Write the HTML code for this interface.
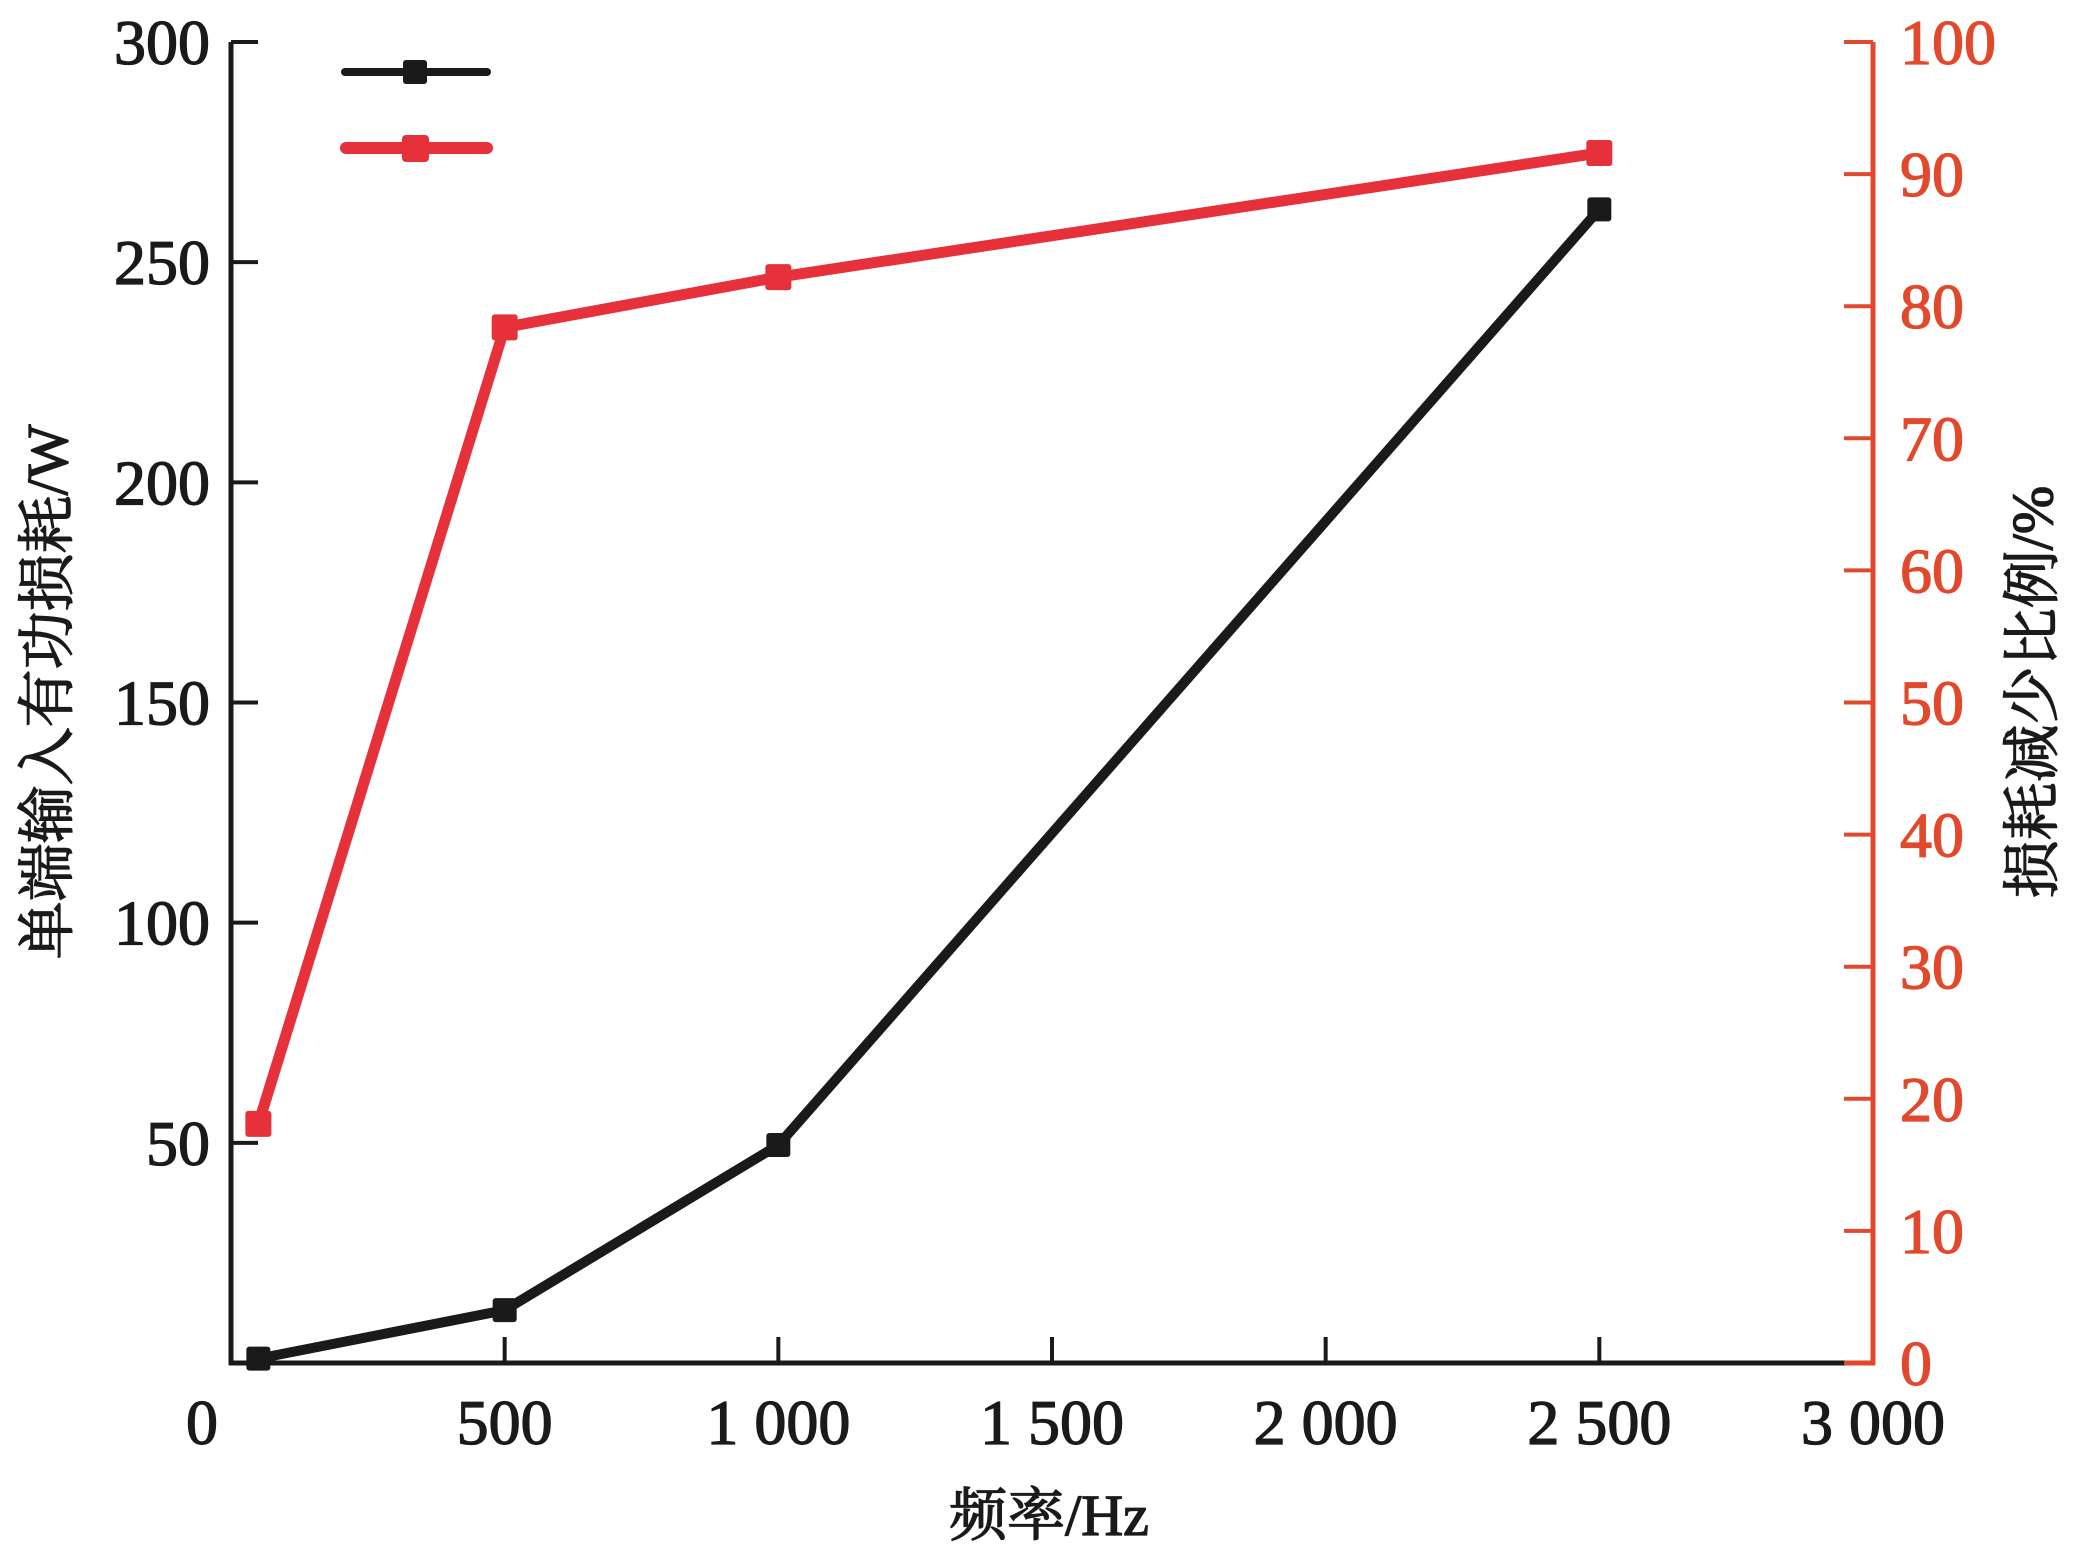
<!DOCTYPE html>
<html><head><meta charset="utf-8"><style>
html,body{margin:0;padding:0;background:#fff;}
svg{display:block;}
text{font-family:"Liberation Serif","Noto Serif CJK SC",serif;stroke-width:1.3px;}
</style></head><body>
<svg id="chart" width="2088" height="1554" viewBox="0 0 2088 1554" xmlns="http://www.w3.org/2000/svg">
<g id="axes"></g>
<g id="series"></g>
<g id="legend"></g>
</svg>
<script>
const freqs = [50, 500, 1000, 2500];
const powerLoss = [1, 12, 49.5, 262];
const lossReduction = [18.1, 78.4, 82.2, 91.6];
const xTicks = [0, 500, 1000, 1500, 2000, 2500, 3000];
const xTickLabels = ["0", "500", "1 000", "1 500", "2 000", "2 500", "3 000"];
const yLeftTicks = [50, 100, 150, 200, 250, 300];
const yRightTicks = [0, 10, 20, 30, 40, 50, 60, 70, 80, 90, 100];

const NS = "http://www.w3.org/2000/svg";
const L = 231, R = 1873, T = 42, B = 1363;
const RED_AX = "#e2492c", RED = "#e6303a", BLK = "#1a1a1a";
const xs = v => L + (v / 3000) * (R - L);
const yl = v => B - (v / 300) * (B - T);
const yr = v => B - (v / 100) * (B - T);

function mk(tag, attrs, parent, txt) {
  const e = document.createElementNS(NS, tag);
  for (const k in attrs) e.setAttribute(k, attrs[k]);
  if (txt !== undefined) e.textContent = txt;
  parent.appendChild(e);
  return e;
}
const axes = document.getElementById("axes");
const series = document.getElementById("series");
const legend = document.getElementById("legend");

let e;
e = mk("line", {x1: L, y1: T, x2: L, y2: B + 2, stroke: BLK, "stroke-width": 5}, axes);


e = mk("line", {x1: L - 2, y1: B, x2: R - 28, y2: B, stroke: BLK, "stroke-width": 5}, axes);


e = mk("line", {x1: R - 28, y1: B, x2: R + 2, y2: B, stroke: RED_AX, "stroke-width": 5}, axes);


e = mk("line", {x1: R, y1: T, x2: R, y2: B + 2, stroke: RED_AX, "stroke-width": 5}, axes);



xTicks.forEach((v, i) => {
  if (v > 0 && v < 3000) {
    const t = mk("line", {x1: xs(v), y1: B, x2: xs(v), y2: B - 26, stroke: BLK, "stroke-width": 4}, axes);
    
    
  }
  const lb = mk("text", {x: xs(v) + (v === 0 ? -29 : 0), y: 1444, "font-size": 64, "text-anchor": "middle", fill: BLK, stroke: BLK}, axes, xTickLabels[i]);
  
  
});
yLeftTicks.forEach(v => {
  const t = mk("line", {x1: L, y1: yl(v), x2: L + 27, y2: yl(v), stroke: BLK, "stroke-width": 4}, axes);
  
  
  const lb = mk("text", {x: 210, y: yl(v) + 22, "font-size": 64, "text-anchor": "end", fill: BLK, stroke: BLK}, axes, String(v));
  
  
});
yRightTicks.forEach(v => {
  const t = mk("line", {x1: R, y1: yr(v), x2: R - 29, y2: yr(v), stroke: RED_AX, "stroke-width": 4}, axes);
  
  
  const lb = mk("text", {x: 1900, y: yr(v) + 22, "font-size": 64, "text-anchor": "start", fill: RED_AX, stroke: RED_AX}, axes, String(v));
  
  
});
e = mk("text", {x: 1049, y: 1535, "font-size": 58, "text-anchor": "middle", fill: BLK, stroke: BLK}, axes, "频率/Hz");


e = mk("text", {x: 0, y: 0, "font-size": 58, "text-anchor": "middle", fill: BLK, stroke: BLK, transform: "translate(67,692) rotate(-90)"}, axes, "单端输入有功损耗/W");


e = mk("text", {x: 0, y: 0, "font-size": 58, "text-anchor": "middle", fill: BLK, stroke: BLK, transform: "translate(2052,692) rotate(-90)"}, axes, "损耗减少比例/%");



function drawSeries(vals, yf, color, lw, ms, name) {
  const pts = freqs.map((f, i) => xs(f) + "," + yf(vals[i])).join(" ");
  const pl = mk("polyline", {points: pts, fill: "none", stroke: color, "stroke-width": lw, "stroke-linejoin": "round", "stroke-linecap": "round"}, series);
  
  
  freqs.forEach((f, i) => {
    const r = mk("rect", {x: xs(f) - ms / 2, y: yf(vals[i]) - ms / 2, width: ms, height: ms, rx: 3, fill: color}, series);
    
    
  });
}
drawSeries(powerLoss, yl, BLK, 10, 24, 'power-loss');
drawSeries(lossReduction, yr, RED, 11, 26, 'loss-reduction');

e = mk("line", {x1: 345, y1: 72, x2: 487, y2: 72, stroke: BLK, "stroke-width": 8, "stroke-linecap": "round"}, legend);


e = mk("rect", {x: 403, y: 60, width: 24, height: 24, rx: 3, fill: BLK}, legend);


e = mk("line", {x1: 346, y1: 148, x2: 487, y2: 148, stroke: RED, "stroke-width": 12, "stroke-linecap": "round"}, legend);


e = mk("rect", {x: 402, y: 135, width: 27, height: 27, rx: 4, fill: RED}, legend);


</script>
</body></html>
